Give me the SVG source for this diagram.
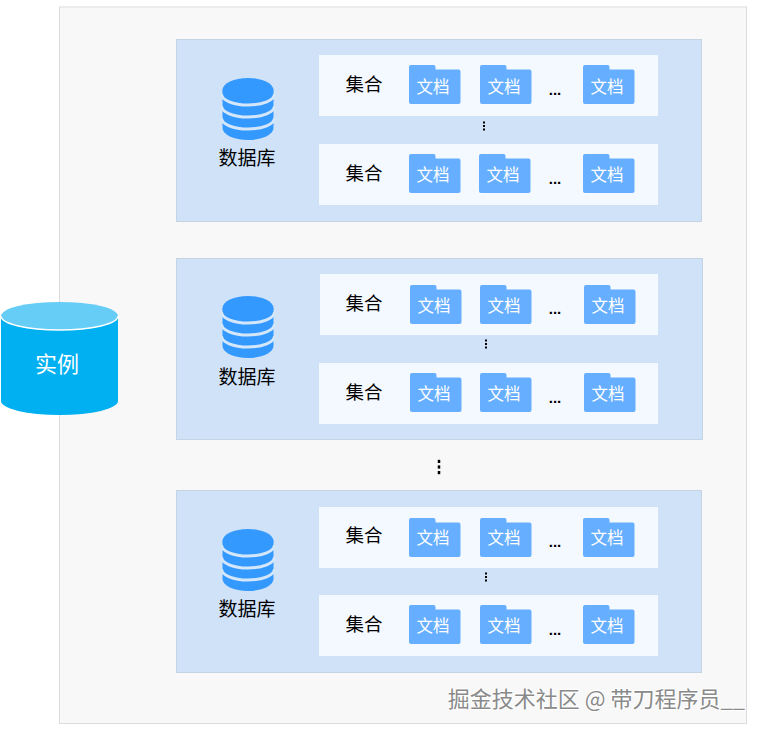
<svg xmlns="http://www.w3.org/2000/svg" width="765" height="732" viewBox="0 0 765 732">
<style>
text{font-family:"Noto Sans CJK SC","Microsoft YaHei",sans-serif;text-anchor:middle}
.panel{fill:#cfe2f8;stroke:#c4d4e4;stroke-width:1}
.row{fill:#f4f8ff}
.folder{fill:#66aeff}
.doc{font-size:16.5px;fill:#fff}
.coll{font-size:18.5px;fill:#000}
.db{font-size:19px;fill:#000}
.ell{font-size:15px;font-weight:700;fill:#000;font-family:"Liberation Sans",sans-serif}
.vd{fill:#000}
.dbb{fill:#3399ff}
.dbl{fill:none;stroke:#d4e6fa;stroke-width:3}
</style>
<defs>
<path id="f" class="folder" d="M2 0H24.500q2 0 2 2V4.500H49.500q2 0 2 2V37q0 2-2 2H2q-2 0-2-2V2q0-2 2-2z"/>
<g id="dbi">
<path class="dbb" d="M222.500 90V128A25.500 12 0 0 0 273.500 128V90z"/>
<ellipse class="dbb" cx="248" cy="90" rx="25.500" ry="12"/>
<path class="dbl" d="M221.500 94A26.500 11 0 0 0 274.500 94M221.500 106A26.500 11 0 0 0 274.500 106M221.500 118A26.500 11 0 0 0 274.500 118"/>
</g>
<g id="v3"><rect x="-1" y="-4.500" width="2" height="2"/><rect x="-1" y="-1" width="2" height="2"/><rect x="-1" y="2.500" width="2" height="2"/></g>
</defs>
<rect id="bg" width="765" height="732" fill="#fff"/>
<rect id="instance-area" x="59.500" y="7" width="687" height="716.500" fill="#f8f8f8" stroke="#dcdcdc"/>

<g id="database-1">
<rect class="panel" x="176.500" y="39.500" width="525" height="182"/>
<use href="#dbi"/>
<text class="db" x="247" y="165">数据库</text>
<g id="collection-1-1">
<rect class="row" x="319" y="55" width="339" height="61"/>
<text class="coll" x="364" y="91">集合</text>
<use href="#f" x="409" y="65"/><text class="doc" x="433" y="93">文档</text>
<use href="#f" x="480" y="65"/><text class="doc" x="504" y="93">文档</text>
<text class="ell" x="555" y="95">...</text>
<use href="#f" x="583" y="65"/><text class="doc" x="607" y="93">文档</text>
</g>
<use class="vd" href="#v3" x="484" y="126"/>
<g id="collection-1-2">
<rect class="row" x="319" y="144" width="339" height="61"/>
<text class="coll" x="364" y="180">集合</text>
<use href="#f" x="409" y="154"/><text class="doc" x="433" y="181">文档</text>
<use href="#f" x="479" y="154"/><text class="doc" x="503" y="181">文档</text>
<text class="ell" x="555" y="184">...</text>
<use href="#f" x="583" y="154"/><text class="doc" x="607" y="181">文档</text>
</g>
</g>

<g id="database-2">
<rect class="panel" x="176.500" y="258.500" width="526" height="181"/>
<use href="#dbi" y="218"/>
<text class="db" x="247" y="384">数据库</text>
<g id="collection-2-1">
<rect class="row" x="320" y="274" width="338" height="61"/>
<text class="coll" x="364" y="310">集合</text>
<use href="#f" x="410" y="285"/><text class="doc" x="434" y="312">文档</text>
<use href="#f" x="480" y="285"/><text class="doc" x="504" y="312">文档</text>
<text class="ell" x="555" y="314">...</text>
<use href="#f" x="584" y="285"/><text class="doc" x="608" y="312">文档</text>
</g>
<use class="vd" href="#v3" x="486" y="344"/>
<g id="collection-2-2">
<rect class="row" x="319" y="363" width="339" height="61"/>
<text class="coll" x="364" y="399">集合</text>
<use href="#f" x="410" y="373"/><text class="doc" x="434" y="400">文档</text>
<use href="#f" x="480" y="373"/><text class="doc" x="504" y="400">文档</text>
<text class="ell" x="555" y="403">...</text>
<use href="#f" x="584" y="373"/><text class="doc" x="608" y="400">文档</text>
</g>
</g>

<use id="more-databases" class="vd" href="#v3" transform="translate(439 467) scale(1.25 1.6)"/>

<g id="database-3">
<rect class="panel" x="176.500" y="490.500" width="525" height="182"/>
<use href="#dbi" y="451"/>
<text class="db" x="247" y="616">数据库</text>
<g id="collection-3-1">
<rect class="row" x="319" y="507" width="339" height="61"/>
<text class="coll" x="364" y="542">集合</text>
<use href="#f" x="409" y="518"/><text class="doc" x="433" y="544">文档</text>
<use href="#f" x="480" y="518"/><text class="doc" x="504" y="544">文档</text>
<text class="ell" x="555" y="547">...</text>
<use href="#f" x="583" y="518"/><text class="doc" x="607" y="544">文档</text>
</g>
<use class="vd" href="#v3" x="486" y="577"/>
<g id="collection-3-2">
<rect class="row" x="319" y="595" width="339" height="61"/>
<text class="coll" x="364" y="631">集合</text>
<use href="#f" x="409" y="605"/><text class="doc" x="433" y="632">文档</text>
<use href="#f" x="480" y="605"/><text class="doc" x="504" y="632">文档</text>
<text class="ell" x="555" y="635">...</text>
<use href="#f" x="583" y="605"/><text class="doc" x="607" y="632">文档</text>
</g>
</g>

<g id="instance">
<path fill="#00b0f0" d="M1 316V401A58.500 14 0 0 0 118 401V316z"/>
<ellipse cx="59.500" cy="316" rx="58.500" ry="14" fill="#66cdf6"/>
<path fill="none" stroke="#fff" stroke-width="1.500" d="M1 316A58.500 14 0 0 0 118 316"/>
<text x="57" y="372" font-size="22" fill="#fff">实例</text>
</g>
<g id="connectors"></g>
<text id="watermark" x="596.500" y="707" font-size="22" fill="#8a8a8a" stroke="#fff" stroke-width="2" paint-order="stroke">掘金技术社区 @ 带刀程序员__</text>
</svg>
